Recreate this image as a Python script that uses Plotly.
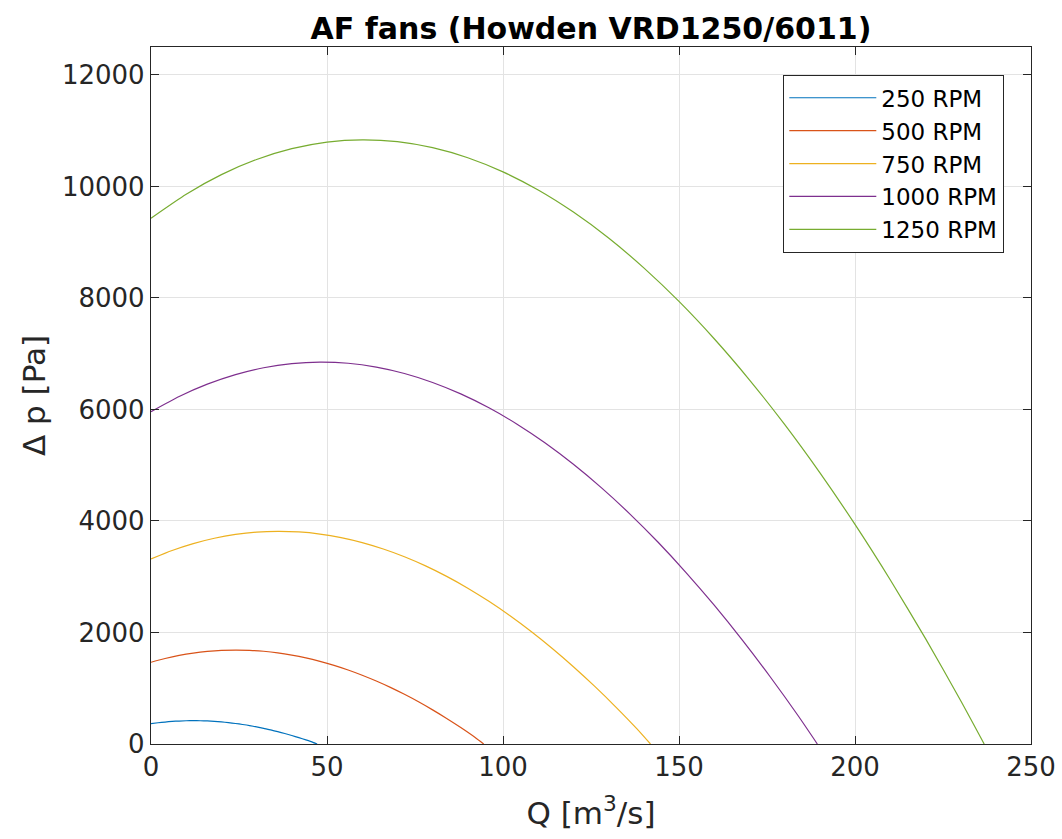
import plotly.graph_objects as go

# Values
labels = ["250 RPM", "500 RPM", "750 RPM", "1000 RPM", "1250 RPM"]
colors = ["#0072BD", "#D95319", "#EDB120", "#7E2F8E", "#77AC30"]

q_250 = [0, 2, 4, 6, 8, 10, 12, 14, 16, 18, 20, 22, 24, 26, 28, 30, 32, 34, 36, 38, 40, 42, 44, 46, 47.2]
p_250 = [366, 381, 394, 405, 412, 417, 418, 417, 413, 406, 396, 383, 368, 350, 330, 306, 281, 252, 221, 188, 152, 114, 73, 30, 0]

q_500 = [0, 4, 8, 12, 16, 20, 24, 28, 32, 36, 40, 44, 48, 52, 56, 60, 64, 68, 72, 76, 80, 84, 88, 92, 94.5]
p_500 = [1466, 1533, 1588, 1630, 1660, 1679, 1685, 1680, 1663, 1635, 1595, 1545, 1483, 1411, 1328, 1234, 1130, 1016, 891, 757, 612, 458, 295, 121, 0]

q_750 = [0, 6, 12, 18, 24, 30, 36, 42, 48, 54, 60, 66, 72, 78, 84, 90, 96, 102, 108, 114, 120, 126, 132, 138, 141.9]
p_750 = [3319, 3471, 3594, 3690, 3758, 3800, 3814, 3803, 3765, 3701, 3612, 3497, 3358, 3194, 3006, 2794, 2558, 2299, 2017, 1713, 1386, 1037, 667, 275, 0]

q_1000 = [0, 8, 16, 24, 32, 40, 48, 56, 64, 72, 80, 88, 96, 104, 112, 120, 128, 136, 144, 152, 160, 168, 176, 184, 189.3]
p_1000 = [5960, 6232, 6453, 6625, 6748, 6822, 6848, 6828, 6759, 6645, 6484, 6279, 6029, 5735, 5397, 5016, 4593, 4128, 3622, 3075, 2489, 1862, 1197, 493, 0]

q_1250 = [0, 10, 20, 30, 40, 50, 60, 70, 80, 90, 100, 110, 120, 130, 140, 150, 160, 170, 180, 190, 200, 210, 220, 230, 236.7]
p_1250 = [9430, 9860, 10211, 10483, 10677, 10795, 10836, 10803, 10695, 10514, 10260, 9935, 9539, 9074, 8539, 7937, 7268, 6532, 5731, 4866, 3938, 2946, 1894, 780, 0]

x_ticks = [0, 50, 100, 150, 200, 250]
y_ticks = [0, 2000, 4000, 6000, 8000, 10000, 12000]

q_series = [q_250, q_500, q_750, q_1000, q_1250]
p_series = [p_250, p_500, p_750, p_1000, p_1250]

FONT = "DejaVu Sans"
AX = "#262626"

fig = go.Figure()
for lab, col, q, p in zip(labels, colors, q_series, p_series):
    fig.add_trace(go.Scatter(x=q, y=p, mode="lines", name=lab,
                             line=dict(color=col, width=1.2, shape="spline", smoothing=0.6)))

axis_common = dict(showline=True, linecolor=AX, linewidth=1.3, mirror="allticks",
                   ticks="inside", ticklen=8, tickcolor=AX, tickwidth=1.3,
                   showgrid=True, gridcolor="#e3e3e3", gridwidth=1, zeroline=False,
                   tickformat="d", automargin=False,
                   tickfont=dict(family=FONT, size=26, color=AX))

fig.update_layout(
    width=1062, height=839,
    paper_bgcolor="white", plot_bgcolor="white",
    margin=dict(l=151, r=31, t=47, b=95),
    title=dict(text="<b>AF fans (Howden VRD1250/6011)</b>", x=(151 + 1031) / 2 / 1062, xanchor="center",
               y=1 - 28 / 839, yanchor="middle", font=dict(family=FONT, size=30, color="black")),
    xaxis=dict(range=[0, 250], tickvals=x_ticks,
               title=dict(text="Q [m<sup>3</sup>/s]", font=dict(family=FONT, size=31, color=AX), standoff=20),
               **axis_common),
    yaxis=dict(range=[0, 12500], tickvals=y_ticks,
               title=dict(text="Δ p [Pa]", font=dict(family=FONT, size=31, color=AX), standoff=7),
               **axis_common),
    legend=dict(x=(1004 - 151) / 880, xanchor="right", y=(744 - 75) / 697, yanchor="top",
                bgcolor="white", bordercolor=AX, borderwidth=1.3,
                font=dict(family=FONT, size=23, color="black"), itemwidth=87,
                tracegroupgap=0),
    showlegend=True,
)

fig.write_html("out.html")
